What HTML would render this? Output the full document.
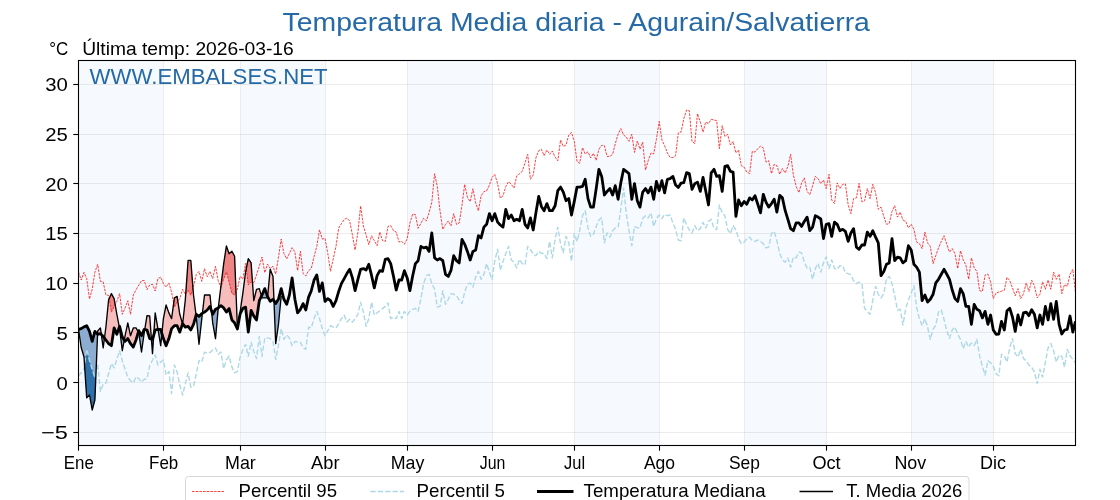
<!DOCTYPE html><html><head><meta charset="utf-8"><title>Temperatura Media diaria - Agurain/Salvatierra</title><style>html,body{margin:0;padding:0;background:#fff}body{width:1120px;height:500px;overflow:hidden}</style></head><body><svg width="1120" height="500" viewBox="0 0 1120 500" style="display:block;will-change:transform;font-family:'Liberation Sans',sans-serif">
<rect width="1120" height="500" fill="#fff"/>
<rect x="78.50" y="60.5" width="85.00" height="385.0" fill="#f6f9fd"/>
<rect x="240.50" y="60.5" width="85.00" height="385.0" fill="#f6f9fd"/>
<rect x="407.50" y="60.5" width="85.00" height="385.0" fill="#f6f9fd"/>
<rect x="574.50" y="60.5" width="85.00" height="385.0" fill="#f6f9fd"/>
<rect x="744.50" y="60.5" width="82.00" height="385.0" fill="#f6f9fd"/>
<rect x="911.50" y="60.5" width="82.00" height="385.0" fill="#f6f9fd"/>
<line x1="78.5" x2="1075.5" y1="432.5" y2="432.5" stroke="#a0a0a0" stroke-opacity="0.2" stroke-width="1"/>
<line x1="78.5" x2="1075.5" y1="382.5" y2="382.5" stroke="#a0a0a0" stroke-opacity="0.2" stroke-width="1"/>
<line x1="78.5" x2="1075.5" y1="332.5" y2="332.5" stroke="#a0a0a0" stroke-opacity="0.2" stroke-width="1"/>
<line x1="78.5" x2="1075.5" y1="283.5" y2="283.5" stroke="#a0a0a0" stroke-opacity="0.2" stroke-width="1"/>
<line x1="78.5" x2="1075.5" y1="233.5" y2="233.5" stroke="#a0a0a0" stroke-opacity="0.2" stroke-width="1"/>
<line x1="78.5" x2="1075.5" y1="183.5" y2="183.5" stroke="#a0a0a0" stroke-opacity="0.2" stroke-width="1"/>
<line x1="78.5" x2="1075.5" y1="134.5" y2="134.5" stroke="#a0a0a0" stroke-opacity="0.2" stroke-width="1"/>
<line x1="78.5" x2="1075.5" y1="84.5" y2="84.5" stroke="#a0a0a0" stroke-opacity="0.2" stroke-width="1"/>
<line x1="163.50" x2="163.50" y1="60.5" y2="445.5" stroke="#98a0ac" stroke-opacity="0.17" stroke-width="1"/>
<line x1="240.50" x2="240.50" y1="60.5" y2="445.5" stroke="#98a0ac" stroke-opacity="0.17" stroke-width="1"/>
<line x1="325.50" x2="325.50" y1="60.5" y2="445.5" stroke="#98a0ac" stroke-opacity="0.17" stroke-width="1"/>
<line x1="407.50" x2="407.50" y1="60.5" y2="445.5" stroke="#98a0ac" stroke-opacity="0.17" stroke-width="1"/>
<line x1="492.50" x2="492.50" y1="60.5" y2="445.5" stroke="#98a0ac" stroke-opacity="0.17" stroke-width="1"/>
<line x1="574.50" x2="574.50" y1="60.5" y2="445.5" stroke="#98a0ac" stroke-opacity="0.17" stroke-width="1"/>
<line x1="659.50" x2="659.50" y1="60.5" y2="445.5" stroke="#98a0ac" stroke-opacity="0.17" stroke-width="1"/>
<line x1="744.50" x2="744.50" y1="60.5" y2="445.5" stroke="#98a0ac" stroke-opacity="0.17" stroke-width="1"/>
<line x1="826.50" x2="826.50" y1="60.5" y2="445.5" stroke="#98a0ac" stroke-opacity="0.17" stroke-width="1"/>
<line x1="911.50" x2="911.50" y1="60.5" y2="445.5" stroke="#98a0ac" stroke-opacity="0.17" stroke-width="1"/>
<line x1="993.50" x2="993.50" y1="60.5" y2="445.5" stroke="#98a0ac" stroke-opacity="0.17" stroke-width="1"/>
<clipPath id="c"><rect x="78.5" y="60.5" width="997.0" height="385.0"/></clipPath>
<g clip-path="url(#c)" fill="none" stroke-linejoin="round">
<path d="M97.5,334.2 L97.7,331.0 L100.4,327.9 L101.3,334.5 L101.3,334.5 L100.4,333.6 L97.7,334.3 L97.5,334.2Z M104.4,338.1 L105.9,327.0 L108.6,300.0 L111.4,293.6 L114.1,298.6 L116.8,314.0 L119.3,327.2 L119.3,327.2 L116.8,334.3 L114.1,327.9 L111.4,345.7 L108.6,343.6 L105.9,340.0 L104.4,338.1Z M124.2,340.2 L125.1,335.7 L127.8,322.9 L130.5,335.7 L133.3,327.9 L136.0,327.9 L138.3,332.1 L138.3,332.1 L136.0,340.0 L133.3,347.1 L130.5,343.6 L127.8,338.6 L125.1,341.4 L124.2,340.2Z M144.8,329.4 L147.0,315.7 L149.7,316.0 L151.4,339.0 L151.4,339.0 L149.7,338.6 L147.0,330.0 L144.8,329.4Z M153.7,335.1 L155.2,312.9 L157.9,328.6 L158.0,329.3 L158.0,329.3 L157.9,329.3 L155.2,330.0 L153.7,335.1Z M161.9,333.5 L163.4,318.6 L166.1,305.0 L168.9,312.9 L171.6,318.6 L174.4,297.9 L177.1,296.4 L179.8,314.3 L182.5,323.9 L182.5,323.9 L179.8,332.1 L177.1,325.7 L174.4,325.7 L171.6,328.6 L168.9,338.6 L166.1,345.7 L163.4,338.6 L161.9,333.5Z M182.7,323.7 L185.3,300.0 L188.1,260.4 L190.8,260.4 L193.5,295.0 L196.0,315.1 L196.0,315.1 L193.5,324.3 L190.8,330.0 L188.1,326.4 L185.3,327.1 L182.7,323.7Z M202.4,313.2 L204.5,295.0 L207.2,295.0 L210.0,295.0 L211.5,310.9 L211.5,310.9 L210.0,306.4 L207.2,310.0 L204.5,312.1 L202.4,313.2Z M218.3,307.8 L220.9,286.4 L223.7,263.6 L226.4,246.0 L229.1,253.7 L231.9,251.3 L234.6,256.3 L237.4,328.0 L240.1,312.0 L242.8,293.6 L245.6,272.0 L248.3,258.6 L251.1,262.9 L253.8,300.7 L256.5,289.3 L259.3,288.6 L261.5,296.1 L261.5,296.1 L259.3,300.7 L256.5,320.0 L253.8,316.1 L251.1,310.4 L248.3,332.1 L245.6,307.1 L242.8,308.6 L240.1,313.9 L237.4,329.0 L234.6,322.9 L231.9,320.0 L229.1,308.6 L226.4,312.1 L223.7,307.9 L220.9,305.7 L218.3,307.8Z M267.6,296.6 L270.2,269.3 L273.0,276.4 L274.0,300.8 L274.0,300.8 L273.0,299.3 L270.2,301.4 L267.6,296.6Z " fill="#f7bcbc" stroke="none"/><path d="M109.2,298.7 L111.4,293.6 L114.1,298.6 L115.2,304.5 L115.2,304.5 L114.1,306.4 L111.4,312.1 L109.2,298.7Z M173.7,303.3 L174.4,297.9 L177.1,296.4 L177.8,301.2 L177.8,301.2 L177.1,302.1 L174.4,307.1 L173.7,303.3Z M185.8,293.7 L188.1,260.4 L190.8,260.4 L193.0,288.2 L193.0,288.2 L190.8,295.3 L188.1,290.4 L185.8,293.7Z M220.8,287.2 L220.9,286.4 L223.7,263.6 L226.4,246.0 L229.1,253.7 L231.9,251.3 L234.6,256.3 L236.0,292.0 L236.0,292.0 L234.6,294.9 L231.9,293.4 L229.1,282.0 L226.4,272.0 L223.7,279.1 L220.9,287.4 L220.8,287.2Z M246.3,268.7 L248.3,258.6 L251.1,262.9 L252.5,282.4 L252.5,282.4 L251.1,282.0 L248.3,284.9 L246.3,268.7Z " fill="#ef8484" stroke="none"/><path d="M78.5,329.3 L81.2,347.5 L84.0,357.0 L86.7,397.9 L89.5,395.0 L92.2,410.0 L94.9,400.0 L97.5,334.2 L97.5,334.2 L94.9,331.4 L92.2,341.4 L89.5,331.4 L86.7,325.7 L84.0,326.9 L81.2,328.6 L78.5,329.3Z M101.3,334.5 L103.2,347.9 L104.4,338.1 L104.4,338.1 L103.2,336.4 L101.3,334.5Z M119.3,327.2 L119.6,328.6 L122.3,350.7 L124.2,340.2 L124.2,340.2 L122.3,337.1 L119.6,326.4 L119.3,327.2Z M138.3,332.1 L138.8,332.9 L141.5,352.0 L144.2,333.0 L144.8,329.4 L144.8,329.4 L144.2,329.3 L141.5,335.7 L138.8,330.7 L138.3,332.1Z M151.4,339.0 L152.5,353.6 L153.7,335.1 L153.7,335.1 L152.5,339.3 L151.4,339.0Z M158.0,329.3 L160.7,345.7 L161.9,333.5 L161.9,333.5 L160.7,329.3 L158.0,329.3Z M182.5,323.9 L182.6,324.3 L182.7,323.7 L182.7,323.7 L182.6,323.6 L182.5,323.9Z M196.0,315.1 L196.3,317.0 L199.0,344.3 L201.8,318.6 L202.4,313.2 L202.4,313.2 L201.8,313.6 L199.0,316.4 L196.3,314.3 L196.0,315.1Z M211.5,310.9 L212.7,322.9 L215.5,338.6 L218.2,308.6 L218.3,307.8 L218.3,307.8 L218.2,307.9 L215.5,309.3 L212.7,314.3 L211.5,310.9Z M261.5,296.1 L262.0,297.9 L264.8,297.9 L267.5,297.9 L267.6,296.6 L267.6,296.6 L267.5,296.4 L264.8,288.6 L262.0,295.0 L261.5,296.1Z M274.0,300.8 L275.7,343.6 L278.4,325.0 L281.2,296.0 L281.2,288.6 L278.4,299.3 L275.7,303.6 L274.0,300.8Z " fill="#8dadd0" stroke="none"/><path d="M84.5,364.9 L86.7,397.9 L89.5,395.0 L92.2,410.0 L94.9,400.0 L96.0,372.1 L96.0,372.1 L94.9,377.9 L92.2,369.3 L89.5,360.7 L86.7,349.3 L84.5,364.9Z " fill="#2d70aa" stroke="none"/>
<polyline points="78.5,272.1 81.2,280.0 84.0,272.4 86.7,278.6 89.5,299.0 92.2,289.3 94.9,272.1 97.7,264.3 100.4,281.4 103.2,281.9 105.9,295.0 108.6,295.3 111.4,312.1 114.1,306.4 116.8,301.4 119.6,293.6 122.3,314.3 125.1,307.9 127.8,300.7 130.5,314.3 133.3,295.0 136.0,290.0 138.8,285.0 141.5,280.7 144.2,280.4 147.0,289.6 149.7,285.0 152.5,284.3 155.2,291.0 157.9,278.6 160.7,277.1 163.4,283.6 166.1,287.1 168.9,282.9 171.6,292.1 174.4,307.1 177.1,302.1 179.8,298.6 182.6,289.3 185.3,294.3 188.1,290.4 190.8,295.3 193.5,286.4 196.3,274.3 199.0,271.4 201.8,281.4 204.5,268.6 207.2,276.7 210.0,271.4 212.7,278.6 215.5,266.4 218.2,280.7 220.9,287.4 223.7,279.1 226.4,272.0 229.1,282.0 231.9,293.4 234.6,294.9 237.4,289.1 240.1,276.3 242.8,279.1 245.6,263.4 248.3,284.9 251.1,282.0 253.8,282.7 256.5,274.9 259.3,266.3 262.0,257.0 264.8,272.7 267.5,264.1 270.2,268.4 273.0,266.3 275.7,274.1 278.4,257.7 281.2,239.1 283.9,253.4 286.7,258.9 289.4,253.4 292.1,247.7 294.9,252.0 297.6,270.6 300.4,251.3 303.1,273.4 305.8,276.0 308.6,270.6 311.3,268.4 314.1,256.3 316.8,246.3 319.5,229.9 322.3,239.1 325.0,238.4 327.8,253.4 330.5,271.3 333.2,259.1 336.0,246.3 338.7,228.0 341.4,223.7 344.2,219.6 346.9,218.0 349.7,221.0 352.4,235.0 355.1,250.0 357.9,232.4 360.6,206.0 363.4,226.0 366.1,234.9 368.8,244.6 371.6,235.7 374.3,240.7 377.1,245.7 379.8,232.0 382.5,240.7 385.3,241.4 388.0,226.4 390.7,225.7 393.5,230.7 396.2,232.0 399.0,242.0 401.7,241.4 404.4,244.3 407.2,238.6 409.9,223.0 412.7,214.0 415.4,214.6 418.1,228.3 420.9,223.3 423.6,218.3 426.4,220.9 429.1,212.6 431.8,202.3 434.6,173.7 437.3,186.6 440.0,210.9 442.8,229.4 445.5,224.4 448.3,220.9 451.0,225.9 453.7,213.7 456.5,224.4 459.2,223.0 462.0,205.1 464.7,184.4 467.4,197.3 470.2,201.6 472.9,188.7 475.7,203.0 478.4,210.9 481.1,195.9 483.9,191.6 486.6,190.9 489.4,185.1 492.1,177.3 494.8,174.4 497.6,183.7 500.3,198.0 503.0,195.9 505.8,186.6 508.5,181.6 511.3,184.4 514.0,188.0 516.7,175.9 519.5,173.7 522.2,171.4 525.0,162.9 527.7,154.3 530.4,179.3 533.2,175.0 535.9,157.9 538.7,150.7 541.4,149.3 544.1,155.7 546.9,150.0 549.6,154.3 552.3,151.0 555.1,157.1 557.8,160.7 560.6,140.0 563.3,146.4 566.0,145.0 568.8,135.0 571.5,132.4 574.3,141.4 577.0,161.4 579.7,163.3 582.5,147.6 585.2,153.9 588.0,151.9 590.7,157.9 593.4,153.3 596.2,160.4 598.9,149.3 601.7,145.3 604.4,145.7 607.1,156.4 609.9,156.4 612.6,154.3 615.3,143.6 618.1,134.3 620.8,128.6 623.6,135.0 626.3,137.1 629.0,141.4 631.8,134.3 634.5,152.4 637.3,141.0 640.0,149.3 642.7,142.1 645.5,170.0 648.2,160.7 651.0,152.9 653.7,153.9 656.4,139.3 659.2,121.4 661.9,140.0 664.6,145.7 667.4,152.9 670.1,157.4 672.9,157.6 675.6,155.7 678.3,132.9 681.1,131.9 683.8,118.6 686.6,110.0 689.3,110.7 692.0,141.4 694.8,143.6 697.5,113.6 700.3,122.1 703.0,132.1 705.7,122.1 708.5,123.6 711.2,119.3 714.0,120.0 716.7,120.7 719.4,148.6 722.2,125.7 724.9,136.4 727.6,134.3 730.4,145.0 733.1,141.4 735.9,152.9 738.6,150.0 741.3,165.7 744.1,167.1 746.8,172.1 749.6,173.6 752.3,151.4 755.0,152.1 757.8,148.6 760.5,146.1 763.3,147.9 766.0,162.1 768.7,160.7 771.5,173.6 774.2,164.3 776.9,165.7 779.7,174.3 782.4,168.6 785.2,172.9 787.9,166.4 790.6,154.3 793.4,175.0 796.1,186.4 798.9,192.6 801.6,182.9 804.3,177.9 807.1,191.4 809.8,194.6 812.6,185.7 815.3,176.4 818.0,178.6 820.8,183.6 823.5,180.0 826.2,188.6 829.0,174.3 831.7,200.0 834.5,203.6 837.2,182.9 839.9,188.6 842.7,184.3 845.4,183.9 848.2,205.0 850.9,213.6 853.6,198.6 856.4,197.9 859.1,183.3 861.9,201.9 864.6,200.7 867.3,188.6 870.1,198.6 872.8,184.3 875.6,192.9 878.3,209.3 881.0,207.1 883.8,216.4 886.5,224.3 889.2,223.6 892.0,211.4 894.7,205.7 897.5,217.1 900.2,212.1 902.9,220.0 905.7,221.4 908.4,227.9 911.2,224.3 913.9,229.3 916.6,242.1 919.4,243.6 922.1,248.6 924.9,232.1 927.6,242.9 930.3,246.4 933.1,263.6 935.8,255.7 938.5,247.9 941.3,241.4 944.0,235.7 946.8,244.3 949.5,252.1 952.2,248.6 955.0,253.6 957.7,268.6 960.5,250.7 963.2,260.0 965.9,265.0 968.7,279.3 971.4,257.9 974.2,267.9 976.9,271.4 979.6,290.7 982.4,291.4 985.1,275.0 987.9,274.0 990.6,282.1 993.3,298.6 996.1,292.9 998.8,292.1 1001.5,291.1 1004.3,290.3 1007.0,277.4 1009.8,280.7 1012.5,287.9 1015.2,295.7 1018.0,288.6 1020.7,298.6 1023.5,293.6 1026.2,282.9 1028.9,291.4 1031.7,280.3 1034.4,285.7 1037.2,297.9 1039.9,294.3 1042.6,281.7 1045.4,289.3 1048.1,280.0 1050.8,289.3 1053.6,272.1 1056.3,279.3 1059.1,274.0 1061.8,293.6 1064.5,284.6 1067.3,286.4 1070.0,274.3 1072.8,269.3 1075.5,292.1" stroke="#ff1010" stroke-width="0.8" stroke-dasharray="2.57,1.11"/>
<polyline points="78.5,375.7 81.2,372.9 84.0,368.6 86.7,349.3 89.5,360.7 92.2,369.3 94.9,377.9 97.7,363.6 100.4,391.4 103.2,384.3 105.9,383.3 108.6,373.6 111.4,363.6 114.1,367.9 116.8,359.3 119.6,350.7 122.3,360.7 125.1,369.3 127.8,377.1 130.5,380.7 133.3,382.9 136.0,376.7 138.8,378.6 141.5,382.1 144.2,379.3 147.0,378.6 149.7,365.7 152.5,360.0 155.2,355.0 157.9,365.0 160.7,362.1 163.4,360.0 166.1,375.0 168.9,371.4 171.6,393.6 174.4,365.0 177.1,372.1 179.8,385.0 182.6,395.0 185.3,383.6 188.1,372.9 190.8,387.1 193.5,386.4 196.3,373.6 199.0,360.7 201.8,362.1 204.5,352.1 207.2,353.3 210.0,352.4 212.7,350.0 215.5,347.9 218.2,354.3 220.9,352.1 223.7,368.6 226.4,360.0 229.1,356.0 231.9,367.1 234.6,372.9 237.4,371.4 240.1,357.1 242.8,350.0 245.6,344.3 248.3,356.4 251.1,342.1 253.8,351.4 256.5,358.6 259.3,336.4 262.0,356.4 264.8,337.9 267.5,337.9 270.2,338.6 273.0,341.4 275.7,359.3 278.4,345.7 281.2,328.6 283.9,339.3 286.7,335.0 289.4,337.9 292.1,345.7 294.9,341.4 297.6,342.1 300.4,342.1 303.1,347.9 305.8,349.3 308.6,327.1 311.3,327.9 314.1,318.6 316.8,311.4 319.5,318.6 322.3,328.6 325.0,335.7 327.8,330.7 330.5,325.7 333.2,327.1 336.0,327.9 338.7,323.6 341.4,318.6 344.2,315.0 346.9,322.1 349.7,319.3 352.4,322.1 355.1,318.6 357.9,314.3 360.6,302.1 363.4,312.1 366.1,326.4 368.8,318.6 371.6,302.1 374.3,315.0 377.1,312.9 379.8,310.7 382.5,308.6 385.3,306.4 388.0,302.9 390.7,318.6 393.5,317.1 396.2,318.6 399.0,311.4 401.7,318.6 404.4,311.4 407.2,315.0 409.9,311.4 412.7,309.3 415.4,308.3 418.1,311.4 420.9,298.6 423.6,283.6 426.4,275.7 429.1,274.3 431.8,283.6 434.6,289.3 437.3,307.1 440.0,306.4 442.8,290.7 445.5,304.3 448.3,299.3 451.0,293.6 453.7,294.3 456.5,295.7 459.2,300.0 462.0,303.6 464.7,292.1 467.4,284.3 470.2,282.9 472.9,287.1 475.7,277.1 478.4,271.4 481.1,279.3 483.9,274.3 486.6,263.6 489.4,272.1 492.1,279.3 494.8,260.7 497.6,249.3 500.3,270.0 503.0,261.4 505.8,253.6 508.5,246.4 511.3,260.0 514.0,262.1 516.7,267.9 519.5,259.3 522.2,263.6 525.0,265.0 527.7,246.4 530.4,249.3 533.2,254.3 535.9,255.7 538.7,251.4 541.4,253.3 544.1,253.6 546.9,258.6 549.6,241.4 552.3,257.9 555.1,239.3 557.8,227.1 560.6,244.3 563.3,252.9 566.0,236.4 568.8,242.9 571.5,261.4 574.3,233.6 577.0,241.4 579.7,230.7 582.5,215.7 585.2,210.7 588.0,227.9 590.7,236.4 593.4,234.3 596.2,226.4 598.9,220.0 601.7,217.9 604.4,242.9 607.1,232.9 609.9,237.1 612.6,230.7 615.3,227.9 618.1,227.1 620.8,209.3 623.6,187.9 626.3,213.6 629.0,230.7 631.8,245.7 634.5,226.4 637.3,227.9 640.0,227.9 642.7,218.6 645.5,215.7 648.2,217.9 651.0,212.9 653.7,226.4 656.4,218.6 659.2,215.0 661.9,218.6 664.6,214.3 667.4,215.7 670.1,215.0 672.9,222.9 675.6,229.3 678.3,240.0 681.1,240.7 683.8,217.9 686.6,225.0 689.3,230.0 692.0,232.9 694.8,225.7 697.5,230.7 700.3,228.6 703.0,222.4 705.7,227.9 708.5,221.4 711.2,219.3 714.0,228.6 716.7,229.6 719.4,205.0 722.2,212.9 724.9,215.7 727.6,229.3 730.4,233.6 733.1,225.7 735.9,230.0 738.6,238.6 741.3,243.6 744.1,242.1 746.8,238.6 749.6,237.1 752.3,240.7 755.0,241.4 757.8,240.0 760.5,241.4 763.3,243.6 766.0,247.9 768.7,247.1 771.5,233.6 774.2,231.4 776.9,240.7 779.7,253.6 782.4,260.0 785.2,262.1 787.9,257.9 790.6,267.1 793.4,257.1 796.1,257.9 798.9,252.1 801.6,252.9 804.3,262.1 807.1,267.9 809.8,267.1 812.6,279.3 815.3,268.6 818.0,263.6 820.8,272.1 823.5,262.9 826.2,256.9 829.0,268.6 831.7,260.0 834.5,268.6 837.2,269.3 839.9,265.7 842.7,265.7 845.4,272.9 848.2,273.6 850.9,275.0 853.6,280.7 856.4,283.6 859.1,282.1 861.9,283.6 864.6,308.6 867.3,311.4 870.1,314.3 872.8,300.0 875.6,286.4 878.3,294.3 881.0,297.9 883.8,293.6 886.5,278.6 889.2,276.4 892.0,283.6 894.7,295.7 897.5,310.0 900.2,309.3 902.9,325.0 905.7,308.6 908.4,300.0 911.2,292.9 913.9,285.7 916.6,307.1 919.4,318.6 922.1,325.7 924.9,318.6 927.6,327.1 930.3,339.3 933.1,329.3 935.8,325.0 938.5,312.1 941.3,310.0 944.0,319.3 946.8,330.7 949.5,338.6 952.2,330.0 955.0,327.1 957.7,334.3 960.5,339.3 963.2,348.6 965.9,341.4 968.7,347.1 971.4,342.9 974.2,345.7 976.9,339.3 979.6,355.7 982.4,366.4 985.1,375.0 987.9,360.7 990.6,362.9 993.3,366.4 996.1,373.6 998.8,375.7 1001.5,354.3 1004.3,355.7 1007.0,362.1 1009.8,347.1 1012.5,338.6 1015.2,353.6 1018.0,357.1 1020.7,349.3 1023.5,358.6 1026.2,360.7 1028.9,365.0 1031.7,367.1 1034.4,372.1 1037.2,383.6 1039.9,369.3 1042.6,377.1 1045.4,362.1 1048.1,347.9 1050.8,343.6 1053.6,350.7 1056.3,362.1 1059.1,355.0 1061.8,356.4 1064.5,367.1 1067.3,349.3 1070.0,355.7 1072.8,359.3 1075.5,362.9" stroke="#add8e6" stroke-width="1.4" stroke-dasharray="5.14,2.22"/>
<polyline points="78.5,329.3 81.2,328.6 84.0,326.9 86.7,325.7 89.5,331.4 92.2,341.4 94.9,331.4 97.7,334.3 100.4,333.6 103.2,336.4 105.9,340.0 108.6,343.6 111.4,345.7 114.1,327.9 116.8,334.3 119.6,326.4 122.3,337.1 125.1,341.4 127.8,338.6 130.5,343.6 133.3,347.1 136.0,340.0 138.8,330.7 141.5,335.7 144.2,329.3 147.0,330.0 149.7,338.6 152.5,339.3 155.2,330.0 157.9,329.3 160.7,329.3 163.4,338.6 166.1,345.7 168.9,338.6 171.6,328.6 174.4,325.7 177.1,325.7 179.8,332.1 182.6,323.6 185.3,327.1 188.1,326.4 190.8,330.0 193.5,324.3 196.3,314.3 199.0,316.4 201.8,313.6 204.5,312.1 207.2,310.0 210.0,306.4 212.7,314.3 215.5,309.3 218.2,307.9 220.9,305.7 223.7,307.9 226.4,312.1 229.1,308.6 231.9,320.0 234.6,322.9 237.4,329.0 240.1,313.9 242.8,308.6 245.6,307.1 248.3,332.1 251.1,310.4 253.8,316.1 256.5,320.0 259.3,300.7 262.0,295.0 264.8,288.6 267.5,296.4 270.2,301.4 273.0,299.3 275.7,303.6 278.4,299.3 281.2,288.6 283.9,299.3 286.7,304.3 289.4,295.0 292.1,277.9 294.9,299.3 297.6,312.9 300.4,309.3 303.1,303.6 305.8,310.0 308.6,297.1 311.3,290.7 314.1,280.0 316.8,275.0 319.5,291.4 322.3,282.9 325.0,301.4 327.8,298.6 330.5,300.7 333.2,306.4 336.0,300.7 338.7,291.4 341.4,283.6 344.2,278.6 346.9,273.6 349.7,269.3 352.4,277.9 355.1,290.7 357.9,279.3 360.6,269.3 363.4,268.6 366.1,270.0 368.8,264.3 371.6,275.7 374.3,287.9 377.1,275.7 379.8,270.7 382.5,271.4 385.3,259.3 388.0,258.6 390.7,263.6 393.5,276.4 396.2,290.0 399.0,280.0 401.7,280.0 404.4,270.7 407.2,277.9 409.9,290.7 412.7,275.7 415.4,263.6 418.1,260.7 420.9,246.4 423.6,247.9 426.4,247.1 429.1,251.4 431.8,232.9 434.6,257.9 437.3,260.0 440.0,258.6 442.8,260.7 445.5,274.3 448.3,276.4 451.0,270.4 453.7,255.7 456.5,260.7 459.2,262.9 462.0,239.3 464.7,244.3 467.4,251.4 470.2,260.0 472.9,251.4 475.7,250.0 478.4,235.7 481.1,237.9 483.9,227.1 486.6,224.3 489.4,213.6 492.1,220.7 494.8,213.6 497.6,222.1 500.3,225.0 503.0,227.1 505.8,209.3 508.5,218.6 511.3,215.0 514.0,220.7 516.7,219.3 519.5,220.7 522.2,209.3 525.0,224.3 527.7,227.9 530.4,217.9 533.2,230.0 535.9,212.9 538.7,196.4 541.4,206.4 544.1,210.7 546.9,203.6 549.6,210.7 552.3,210.7 555.1,205.7 557.8,190.7 560.6,187.1 563.3,192.1 566.0,200.7 568.8,198.6 571.5,215.0 574.3,201.4 577.0,187.1 579.7,187.1 582.5,186.4 585.2,179.3 588.0,198.6 590.7,207.1 593.4,207.1 596.2,188.6 598.9,169.3 601.7,176.4 604.4,195.0 607.1,191.4 609.9,188.6 612.6,195.0 615.3,185.7 618.1,199.3 620.8,182.9 623.6,169.3 626.3,171.4 629.0,173.6 631.8,199.3 634.5,183.6 637.3,200.7 640.0,207.1 642.7,192.1 645.5,188.6 648.2,192.9 651.0,187.1 653.7,199.3 656.4,181.4 659.2,190.7 661.9,180.7 664.6,192.9 667.4,179.3 670.1,178.6 672.9,176.4 675.6,185.0 678.3,187.4 681.1,183.1 683.8,182.6 686.6,172.6 689.3,173.6 692.0,189.3 694.8,183.6 697.5,182.1 700.3,191.4 703.0,177.4 705.7,190.7 708.5,205.0 711.2,172.9 714.0,169.3 716.7,176.4 719.4,175.7 722.2,191.4 724.9,166.4 727.6,165.7 730.4,171.4 733.1,172.1 735.9,216.4 738.6,200.0 741.3,205.7 744.1,201.4 746.8,204.3 749.6,197.9 752.3,200.0 755.0,195.7 757.8,204.3 760.5,212.9 763.3,194.3 766.0,202.1 768.7,207.1 771.5,203.6 774.2,199.3 776.9,212.1 779.7,195.4 782.4,197.9 785.2,210.7 787.9,219.3 790.6,228.6 793.4,230.7 796.1,222.9 798.9,222.9 801.6,226.4 804.3,221.4 807.1,217.1 809.8,230.7 812.6,227.1 815.3,215.7 818.0,217.1 820.8,219.0 823.5,238.6 826.2,224.3 829.0,223.6 831.7,236.4 834.5,222.1 837.2,224.3 839.9,230.7 842.7,229.3 845.4,231.4 848.2,241.4 850.9,232.9 853.6,228.6 856.4,247.1 859.1,249.3 861.9,245.0 864.6,245.0 867.3,232.1 870.1,236.4 872.8,230.7 875.6,237.1 878.3,242.9 881.0,275.7 883.8,271.4 886.5,264.3 889.2,262.9 892.0,238.6 894.7,260.7 897.5,257.1 900.2,257.9 902.9,262.9 905.7,260.7 908.4,245.7 911.2,250.0 913.9,264.3 916.6,267.1 919.4,272.1 922.1,300.7 924.9,295.0 927.6,302.1 930.3,299.3 933.1,294.3 935.8,282.9 938.5,279.3 941.3,274.3 944.0,269.3 946.8,274.3 949.5,279.3 952.2,290.0 955.0,298.6 957.7,301.4 960.5,288.6 963.2,293.6 965.9,306.4 968.7,306.4 971.4,324.3 974.2,304.3 976.9,309.3 979.6,310.7 982.4,317.9 985.1,311.4 987.9,324.3 990.6,315.0 993.3,330.0 996.1,334.3 998.8,334.0 1001.5,321.4 1004.3,330.0 1007.0,310.7 1009.8,308.3 1012.5,317.1 1015.2,331.4 1018.0,315.0 1020.7,325.0 1023.5,312.9 1026.2,312.1 1028.9,315.7 1031.7,309.7 1034.4,314.3 1037.2,327.9 1039.9,315.0 1042.6,324.3 1045.4,306.4 1048.1,320.0 1050.8,303.6 1053.6,319.3 1056.3,301.4 1059.1,324.3 1061.8,334.0 1064.5,330.0 1067.3,329.3 1070.0,316.0 1072.8,332.1 1075.5,321.4" stroke="#000" stroke-width="2.8"/>
<polyline points="78.5,329.3 81.2,347.5 84.0,357.0 86.7,397.9 89.5,395.0 92.2,410.0 94.9,400.0 97.7,331.0 100.4,327.9 103.2,347.9 105.9,327.0 108.6,300.0 111.4,293.6 114.1,298.6 116.8,314.0 119.6,328.6 122.3,350.7 125.1,335.7 127.8,322.9 130.5,335.7 133.3,327.9 136.0,327.9 138.8,332.9 141.5,352.0 144.2,333.0 147.0,315.7 149.7,316.0 152.5,353.6 155.2,312.9 157.9,328.6 160.7,345.7 163.4,318.6 166.1,305.0 168.9,312.9 171.6,318.6 174.4,297.9 177.1,296.4 179.8,314.3 182.6,324.3 185.3,300.0 188.1,260.4 190.8,260.4 193.5,295.0 196.3,317.0 199.0,344.3 201.8,318.6 204.5,295.0 207.2,295.0 210.0,295.0 212.7,322.9 215.5,338.6 218.2,308.6 220.9,286.4 223.7,263.6 226.4,246.0 229.1,253.7 231.9,251.3 234.6,256.3 237.4,328.0 240.1,312.0 242.8,293.6 245.6,272.0 248.3,258.6 251.1,262.9 253.8,300.7 256.5,289.3 259.3,288.6 262.0,297.9 264.8,297.9 267.5,297.9 270.2,269.3 273.0,276.4 275.7,343.6 278.4,325.0 281.2,296.0" stroke="#000" stroke-width="1.35"/>
</g>
<rect x="78.5" y="60.5" width="997.0" height="385.0" fill="none" stroke="#000" stroke-width="1.1"/>
<line x1="73.3" x2="78.5" y1="432.5" y2="432.5" stroke="#000" stroke-width="1.1"/>
<line x1="73.3" x2="78.5" y1="382.5" y2="382.5" stroke="#000" stroke-width="1.1"/>
<line x1="73.3" x2="78.5" y1="332.5" y2="332.5" stroke="#000" stroke-width="1.1"/>
<line x1="73.3" x2="78.5" y1="283.5" y2="283.5" stroke="#000" stroke-width="1.1"/>
<line x1="73.3" x2="78.5" y1="233.5" y2="233.5" stroke="#000" stroke-width="1.1"/>
<line x1="73.3" x2="78.5" y1="183.5" y2="183.5" stroke="#000" stroke-width="1.1"/>
<line x1="73.3" x2="78.5" y1="134.5" y2="134.5" stroke="#000" stroke-width="1.1"/>
<line x1="73.3" x2="78.5" y1="84.5" y2="84.5" stroke="#000" stroke-width="1.1"/>
<line x1="78.50" x2="78.50" y1="445.5" y2="450.7" stroke="#000" stroke-width="1.1"/>
<line x1="163.50" x2="163.50" y1="445.5" y2="450.7" stroke="#000" stroke-width="1.1"/>
<line x1="240.50" x2="240.50" y1="445.5" y2="450.7" stroke="#000" stroke-width="1.1"/>
<line x1="325.50" x2="325.50" y1="445.5" y2="450.7" stroke="#000" stroke-width="1.1"/>
<line x1="407.50" x2="407.50" y1="445.5" y2="450.7" stroke="#000" stroke-width="1.1"/>
<line x1="492.50" x2="492.50" y1="445.5" y2="450.7" stroke="#000" stroke-width="1.1"/>
<line x1="574.50" x2="574.50" y1="445.5" y2="450.7" stroke="#000" stroke-width="1.1"/>
<line x1="659.50" x2="659.50" y1="445.5" y2="450.7" stroke="#000" stroke-width="1.1"/>
<line x1="744.50" x2="744.50" y1="445.5" y2="450.7" stroke="#000" stroke-width="1.1"/>
<line x1="826.50" x2="826.50" y1="445.5" y2="450.7" stroke="#000" stroke-width="1.1"/>
<line x1="911.50" x2="911.50" y1="445.5" y2="450.7" stroke="#000" stroke-width="1.1"/>
<line x1="993.50" x2="993.50" y1="445.5" y2="450.7" stroke="#000" stroke-width="1.1"/>
<text x="282.6" y="31.4" font-size="25.00" text-anchor="start" fill="#2569a6" textLength="587.3" lengthAdjust="spacingAndGlyphs">Temperatura Media diaria - Agurain/Salvatierra</text>
<text x="49.3" y="54.9" font-size="18.20" text-anchor="start" fill="#000" textLength="19.0" lengthAdjust="spacingAndGlyphs">°C</text>
<text x="82.2" y="54.9" font-size="18.20" text-anchor="start" fill="#000" textLength="211.5" lengthAdjust="spacingAndGlyphs">Última temp: 2026-03-16</text>
<text x="89.6" y="83.7" font-size="22.00" text-anchor="start" fill="#2569a6" textLength="238.0" lengthAdjust="spacingAndGlyphs">WWW.EMBALSES.NET</text>
<text x="41.0" y="439.2" font-size="18.20" text-anchor="start" fill="#000" textLength="26.9" lengthAdjust="spacingAndGlyphs">−5</text>
<text x="56.6" y="389.5" font-size="18.20" text-anchor="start" fill="#000" textLength="11.3" lengthAdjust="spacingAndGlyphs">0</text>
<text x="56.6" y="339.8" font-size="18.20" text-anchor="start" fill="#000" textLength="11.3" lengthAdjust="spacingAndGlyphs">5</text>
<text x="45.3" y="290.1" font-size="18.20" text-anchor="start" fill="#000" textLength="22.6" lengthAdjust="spacingAndGlyphs">10</text>
<text x="45.3" y="240.4" font-size="18.20" text-anchor="start" fill="#000" textLength="22.6" lengthAdjust="spacingAndGlyphs">15</text>
<text x="45.3" y="190.7" font-size="18.20" text-anchor="start" fill="#000" textLength="22.6" lengthAdjust="spacingAndGlyphs">20</text>
<text x="45.3" y="141.0" font-size="18.20" text-anchor="start" fill="#000" textLength="22.6" lengthAdjust="spacingAndGlyphs">25</text>
<text x="45.3" y="91.3" font-size="18.20" text-anchor="start" fill="#000" textLength="22.6" lengthAdjust="spacingAndGlyphs">30</text>
<text x="63.8" y="468.6" font-size="18.20" text-anchor="start" fill="#000" textLength="30.0" lengthAdjust="spacingAndGlyphs">Ene</text>
<text x="149.1" y="468.6" font-size="18.20" text-anchor="start" fill="#000" textLength="29.2" lengthAdjust="spacingAndGlyphs">Feb</text>
<text x="225.0" y="468.6" font-size="18.20" text-anchor="start" fill="#000" textLength="30.8" lengthAdjust="spacingAndGlyphs">Mar</text>
<text x="311.1" y="468.6" font-size="18.20" text-anchor="start" fill="#000" textLength="28.4" lengthAdjust="spacingAndGlyphs">Abr</text>
<text x="390.7" y="468.6" font-size="18.20" text-anchor="start" fill="#000" textLength="33.6" lengthAdjust="spacingAndGlyphs">May</text>
<text x="479.8" y="468.6" font-size="18.20" text-anchor="start" fill="#000" textLength="25.6" lengthAdjust="spacingAndGlyphs">Jun</text>
<text x="564.1" y="468.6" font-size="18.20" text-anchor="start" fill="#000" textLength="21.0" lengthAdjust="spacingAndGlyphs">Jul</text>
<text x="643.9" y="468.6" font-size="18.20" text-anchor="start" fill="#000" textLength="31.2" lengthAdjust="spacingAndGlyphs">Ago</text>
<text x="728.9" y="468.6" font-size="18.20" text-anchor="start" fill="#000" textLength="31.0" lengthAdjust="spacingAndGlyphs">Sep</text>
<text x="812.4" y="468.6" font-size="18.20" text-anchor="start" fill="#000" textLength="28.2" lengthAdjust="spacingAndGlyphs">Oct</text>
<text x="894.4" y="468.6" font-size="18.20" text-anchor="start" fill="#000" textLength="31.8" lengthAdjust="spacingAndGlyphs">Nov</text>
<text x="980.0" y="468.6" font-size="18.20" text-anchor="start" fill="#000" textLength="26.0" lengthAdjust="spacingAndGlyphs">Dic</text>
<rect x="185.5" y="476.5" width="783.5" height="40" rx="3" fill="#fff" fill-opacity="0.8" stroke="#d6d6d6" stroke-width="1"/>
<line x1="192" x2="225" y1="491.5" y2="491.5" stroke="#ff1010" stroke-width="0.8" stroke-dasharray="2.57,1.11"/>
<text x="238.6" y="496.5" font-size="18.20" text-anchor="start" fill="#000" textLength="98.4" lengthAdjust="spacingAndGlyphs">Percentil 95</text>
<line x1="370.5" x2="404" y1="491.5" y2="491.5" stroke="#add8e6" stroke-width="1.4" stroke-dasharray="5.14,2.22"/>
<text x="416.6" y="496.5" font-size="18.20" text-anchor="start" fill="#000" textLength="88.4" lengthAdjust="spacingAndGlyphs">Percentil 5</text>
<line x1="537" x2="573.5" y1="491.5" y2="491.5" stroke="#000" stroke-width="2.8"/>
<text x="583.6" y="496.5" font-size="18.20" text-anchor="start" fill="#000" textLength="182.0" lengthAdjust="spacingAndGlyphs">Temperatura Mediana</text>
<line x1="799.5" x2="833" y1="491.5" y2="491.5" stroke="#000" stroke-width="1.35"/>
<text x="846.3" y="496.5" font-size="18.20" text-anchor="start" fill="#000" textLength="116.0" lengthAdjust="spacingAndGlyphs">T. Media 2026</text>
</svg></body></html>
